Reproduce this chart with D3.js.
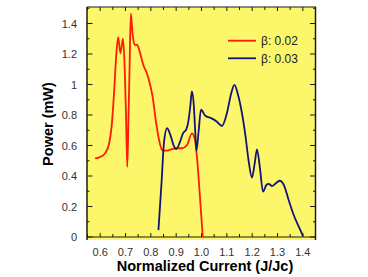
<!DOCTYPE html>
<html>
<head>
<meta charset="utf-8">
<script src="https://cdn.jsdelivr.net/npm/d3@7"></script>
<style>
  body { margin: 0; background: #fff; }
  svg { display: block; font-family: "Liberation Sans", Arial, sans-serif; }
</style>
</head>
<body>
<svg id="chart" width="368" height="277"></svg>
<script>
// beta = 0.02 (red)
var red_x = [0.58, 0.60, 0.62, 0.635, 0.645, 0.655, 0.663, 0.671, 0.68, 0.69, 0.697, 0.702, 0.707, 0.712, 0.716, 0.721, 0.728, 0.736, 0.746, 0.757, 0.77, 0.785, 0.797, 0.807, 0.82, 0.832, 0.845, 0.864, 0.883, 0.903, 0.923, 0.943, 0.962, 0.973, 0.982, 0.992, 1.005];
var red_y = [0.515, 0.525, 0.55, 0.61, 0.72, 0.95, 1.18, 1.31, 1.205, 1.30, 1.10, 0.80, 0.46, 0.80, 1.10, 1.465, 1.33, 1.26, 1.26, 1.21, 1.13, 1.07, 1.0, 0.92, 0.76, 0.64, 0.57, 0.566, 0.577, 0.582, 0.582, 0.603, 0.68, 0.647, 0.527, 0.308, 0.0];
// beta = 0.03 (blue)
var blue_x = [0.83, 0.842, 0.852, 0.864, 0.877, 0.89, 0.90, 0.913, 0.927, 0.94, 0.949, 0.956, 0.962, 0.969, 0.975, 0.98, 0.989, 0.998, 1.015, 1.04, 1.061, 1.081, 1.10, 1.117, 1.13, 1.143, 1.16, 1.173, 1.186, 1.199, 1.21, 1.219, 1.23, 1.243, 1.256, 1.265, 1.279, 1.296, 1.309, 1.325, 1.344, 1.364, 1.384, 1.401];
var blue_y = [0.045, 0.35, 0.62, 0.713, 0.67, 0.60, 0.577, 0.614, 0.68, 0.706, 0.767, 0.86, 0.955, 0.877, 0.70, 0.566, 0.70, 0.835, 0.795, 0.778, 0.756, 0.728, 0.81, 0.94, 0.997, 0.94, 0.81, 0.67, 0.50, 0.39, 0.483, 0.575, 0.461, 0.297, 0.341, 0.348, 0.334, 0.356, 0.369, 0.341, 0.243, 0.144, 0.068, 0.005];

var series_names = ["\u03b2: 0.02", "\u03b2: 0.03"];
var series_colors = ["#ff1a00", "#141478"];
var x_ticks = [0.6, 0.7, 0.8, 0.9, 1.0, 1.1, 1.2, 1.3, 1.4];
var y_ticks = [0, 0.2, 0.4, 0.6, 0.8, 1, 1.2, 1.4];

var svg = d3.select("#chart");
var x = d3.scaleLinear().domain([0.55, 1.45]).range([87.5, 315.5]);
var y = d3.scaleLinear().domain([0, 1.5]).range([237, 8.25]);

// plot background
svg.append("rect")
    .attr("x", 87).attr("y", 7)
    .attr("width", 229).attr("height", 233)
    .attr("fill", "#fcf76a");

var minorX = d3.range(0.55, 1.451, 0.05), minorY = d3.range(0, 1.501, 0.1);
var g = svg.append("g").attr("stroke", "#1c1c10").attr("stroke-width", 1);

// bottom & top ticks
minorX.forEach(function(v) {
    var major = Math.abs(Math.round(v * 10) - v * 10) < 1e-6;
    var len = major ? 4 : 3;
    g.append("line").attr("x1", x(v)).attr("x2", x(v)).attr("y1", y(0)).attr("y2", y(0) - len);
    g.append("line").attr("x1", x(v)).attr("x2", x(v)).attr("y1", 7).attr("y2", 7 + len);
});
// left & right ticks
minorY.forEach(function(v) {
    var major = Math.abs(Math.round(v * 5) - v * 5) < 1e-6;
    var len = major ? 5.5 : 2.5;
    g.append("line").attr("y1", y(v)).attr("y2", y(v)).attr("x1", 87).attr("x2", 87 + len);
    g.append("line").attr("y1", y(v)).attr("y2", y(v)).attr("x1", 315.5).attr("x2", 315.5 - len);
});
// frame
g.append("line").attr("x1", 87).attr("x2", 87).attr("y1", 7).attr("y2", 240).attr("stroke-width", 1.5);
g.append("line").attr("x1", 315.5).attr("x2", 315.5).attr("y1", 7).attr("y2", 240).attr("stroke-width", 1.5);
g.append("line").attr("x1", 87).attr("x2", 316).attr("y1", 7).attr("y2", 7).attr("stroke-width", 1.2);
g.append("line").attr("x1", 87).attr("x2", 316).attr("y1", y(0)).attr("y2", y(0)).attr("stroke-width", 1.2);

// tick labels
svg.append("g").selectAll("text").data(x_ticks).enter().append("text")
    .attr("x", function(d) { return x(d); })
    .attr("y", 256)
    .attr("text-anchor", "middle")
    .attr("font-size", 11)
    .attr("fill", "#333")
    .text(function(d) { return d.toFixed(1); });
svg.append("g").selectAll("text").data(y_ticks).enter().append("text")
    .attr("x", 77)
    .attr("y", function(d) { return y(d) + 4; })
    .attr("text-anchor", "end")
    .attr("font-size", 11)
    .attr("fill", "#333")
    .text(function(d) { return d3.format("~g")(d); });

// axis titles
svg.append("text")
    .attr("x", 205).attr("y", 271)
    .attr("text-anchor", "middle")
    .attr("font-size", 14.5).attr("font-weight", "bold")
    .text("Normalized Current (J/Jc)");
svg.append("text")
    .attr("transform", "translate(53,124) rotate(-90)")
    .attr("text-anchor", "middle")
    .attr("font-size", 14.5).attr("font-weight", "bold")
    .text("Power (mW)");

// curves
var line = d3.line()
    .x(function(d) { return x(d[0]); })
    .y(function(d) { return y(d[1]); })
    .curve(d3.curveMonotoneX);
var series = [d3.zip(red_x, red_y), d3.zip(blue_x, blue_y)];
svg.append("g").selectAll("path").data(series).enter().append("path")
    .attr("d", line)
    .attr("fill", "none")
    .attr("stroke", function(d, i) { return series_colors[i]; })
    .attr("stroke-width", 1.8)
    .attr("stroke-linejoin", "round");

// legend
var leg = svg.append("g").selectAll("g").data(series_names).enter().append("g")
    .attr("transform", function(d, i) { return "translate(228," + (40.7 + i * 17.6) + ")"; });
leg.append("line")
    .attr("x1", 0).attr("x2", 28)
    .attr("stroke", function(d, i) { return series_colors[i]; })
    .attr("stroke-width", 1.8);
leg.append("text")
    .attr("x", 33).attr("y", 4.5)
    .attr("font-size", 12)
    .attr("fill", "#222")
    .text(function(d) { return d; });
</script>
</body>
</html>
